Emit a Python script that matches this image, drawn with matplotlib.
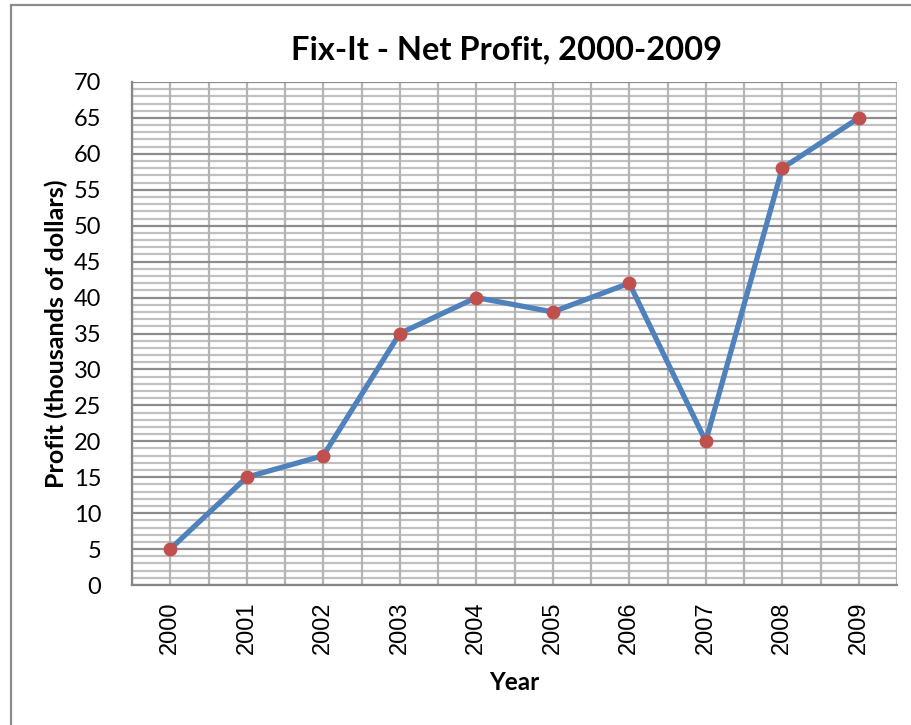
import numpy as np
import matplotlib.pyplot as plt
from matplotlib.patches import Rectangle

years = ['2000', '2001', '2002', '2003', '2004', '2005', '2006', '2007', '2008', '2009']
profit = [5, 15, 18, 35, 40, 38, 42, 20, 58, 65]

fig = plt.figure(figsize=(9.11, 7.25), dpi=100)
ax = fig.add_axes([132/911, 1-585/725, (897-132)/911, (585-82)/725])

x = np.arange(len(years))

# grid: minor every 1, major every 5, verticals every half category
for v in range(0, 71):
    if v % 5 == 0:
        ax.axhline(v, color='#8c8c8c', lw=1.6, zorder=1)
    else:
        ax.axhline(v, color='#c0c0c0', lw=1.6, zorder=0.5)
for xv in np.arange(-0.5, 10, 0.5):
    ax.axvline(xv, color='#b4b4b4', lw=1.6, zorder=0.8)

ax.plot(x, profit, color='#4F81BD', lw=3.8, zorder=3, solid_capstyle='round')
ax.plot(x, profit, 'o', color='#C0504D', markersize=9, zorder=4)

ax.set_xlim(-0.5, 9.5)
ax.set_ylim(0, 70)
ax.set_yticks(range(0, 71, 5))
ax.set_yticklabels([str(v) for v in range(0, 71, 5)], family='Lato', fontsize=17)
ax.set_xticks(x)
ax.set_xticklabels(years, rotation=90, family='Liberation Sans', fontsize=17)
ax.tick_params(length=0)
ax.tick_params(axis='y', pad=22)
ax.tick_params(axis='x', pad=12)

for s in ['top', 'right']:
    ax.spines[s].set_visible(False)
for s in ['left', 'bottom']:
    ax.spines[s].set_color('#868686')
    ax.spines[s].set_linewidth(1.6)
    ax.spines[s].set_zorder(2)

ax.set_title('Fix-It - Net Profit, 2000-2009', family='Lato', fontweight='bold',
             fontsize=23.5, pad=16, x=0.489)
ax.set_ylabel('Profit (thousands of dollars)', family='Lato', fontweight='bold',
              fontsize=18, labelpad=4)
ax.set_xlabel('Year', family='Lato', fontweight='bold', fontsize=17.5, labelpad=12)

# outer chart border
fig.patches.append(Rectangle((11/911, -0.1), 1.1, 1 - 5/725 + 0.1,
                             transform=fig.transFigure, fill=False,
                             edgecolor='#8c8c8c', lw=1.6))

fig.savefig('out.png', dpi=100)
